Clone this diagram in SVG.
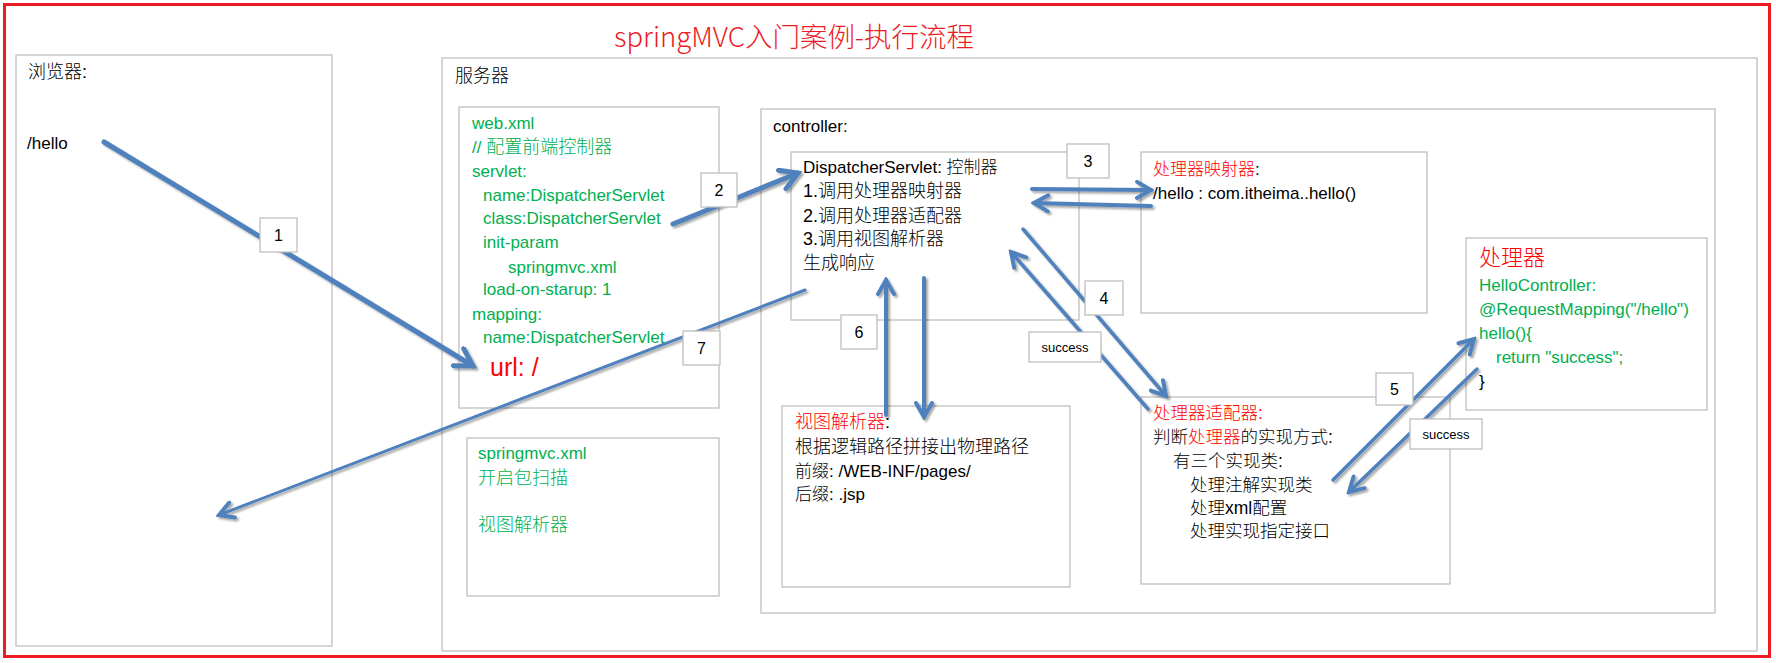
<svg xmlns="http://www.w3.org/2000/svg" width="1776" height="663" viewBox="0 0 1776 663">
<style>
text{font-family:"Liberation Sans","Noto Sans CJK SC",sans-serif;font-size:17px;fill:#000;font-weight:300}
.cj{font-size:18px}
.g{fill:#00b050}
.r{fill:#ff0000}
.k{fill:#000}
.box{fill:none;stroke:#bfbfbf;stroke-width:1.3}
.lbl{fill:#fff;stroke:#bfbfbf;stroke-width:1.3}
.num{font-size:16px;text-anchor:middle}
.suc{font-size:13px;text-anchor:middle}
.ln{fill:none;stroke:#4f81bd;stroke-linecap:round}
</style>
<defs>
<filter id="sh" filterUnits="userSpaceOnUse" x="0" y="0" width="1776" height="663">
<feDropShadow dx="2" dy="2" stdDeviation="1.3" flood-color="#000" flood-opacity="0.35"/>
</filter>
<marker id="ahL" viewBox="0 0 24 24" refX="20" refY="12" markerWidth="24" markerHeight="24" markerUnits="userSpaceOnUse" orient="auto">
<path d="M3,2 L20,12 L3,22" fill="none" stroke="#4f81bd" stroke-width="5" stroke-linecap="round" stroke-linejoin="miter"/>
</marker>
<marker id="ahS" viewBox="0 0 20 20" refX="17" refY="10" markerWidth="20" markerHeight="20" markerUnits="userSpaceOnUse" orient="auto">
<path d="M3,2 L17,10 L3,18" fill="none" stroke="#4f81bd" stroke-width="4" stroke-linecap="round" stroke-linejoin="miter"/>
</marker>
</defs>
<rect x="0" y="0" width="1776" height="663" fill="#fff"/>
<rect id="frame" x="4.5" y="4.5" width="1765" height="652" fill="none" stroke="#ed1c24" stroke-width="3"/>
<text id="title" x="614" y="47" font-size="27" textLength="360" lengthAdjust="spacingAndGlyphs" style="font-family:'Noto Sans CJK SC',sans-serif;font-size:27px;fill:#ed1c24">springMVC入门案例-执行流程</text>

<g id="browser">
<rect class="box" x="16" y="55" width="316" height="591"/>
<text class="cj" x="28" y="78">浏览器:</text>
<text x="27" y="149">/hello</text>
</g>

<g id="server">
<rect class="box" x="442" y="58" width="1315" height="593"/>
<text class="cj" x="455" y="82">服务器</text>
</g>

<g id="webxml">
<rect class="box" x="459" y="107" width="260" height="301"/>
<text class="g" x="472" y="129">web.xml</text>
<text class="g" x="472" y="153">// <tspan class="cj">配置前端控制器</tspan></text>
<text class="g" x="472" y="177">servlet:</text>
<text class="g" x="483" y="201">name:DispatcherServlet</text>
<text class="g" x="483" y="224">class:DispatcherServlet</text>
<text class="g" x="483" y="248">init-param</text>
<text class="g" x="508" y="273">springmvc.xml</text>
<text class="g" x="483" y="295">load-on-starup: 1</text>
<text class="g" x="472" y="320">mapping:</text>
<text class="g" x="483" y="343">name:DispatcherServlet</text>
<text class="r" x="490" y="376" style="font-size:25px">url: /</text>
</g>

<g id="springmvc">
<rect class="box" x="467" y="438" width="252" height="158"/>
<text class="g" x="478" y="459">springmvc.xml</text>
<text class="g cj" x="478" y="484">开启包扫描</text>
<text class="g cj" x="478" y="531">视图解析器</text>
</g>

<g id="controller">
<rect class="box" x="761" y="109" width="954" height="504"/>
<text x="773" y="132">controller:</text>
</g>

<g id="dispatcher">
<rect class="box" x="791" y="152" width="288" height="168"/>
<text x="803" y="173">DispatcherServlet: 控制器</text>
<text class="cj" x="803" y="197">1.调用处理器映射器</text>
<text class="cj" x="803" y="222">2.调用处理器适配器</text>
<text class="cj" x="803" y="245">3.调用视图解析器</text>
<text class="cj" x="803" y="269">生成响应</text>
</g>

<g id="mapper">
<rect class="box" x="1141" y="152" width="286" height="161"/>
<text class="r" x="1153" y="175">处理器映射器<tspan class="k">:</tspan></text>
<text x="1153" y="199">/hello : com.itheima..hello()</text>
</g>

<g id="handler">
<rect class="box" x="1466" y="238" width="241" height="172"/>
<text class="r" x="1479" y="265" style="font-size:22px">处理器</text>
<text class="g" x="1479" y="291">HelloController:</text>
<text class="g" x="1479" y="315">@RequestMapping("/hello")</text>
<text class="g" x="1479" y="339">hello(){</text>
<text class="g" x="1496" y="363">return "success";</text>
<text x="1479" y="387">}</text>
</g>

<g id="viewresolver">
<rect class="box" x="782" y="406" width="288" height="181"/>
<text class="r cj" x="795" y="428">视图解析器<tspan class="k">:</tspan></text>
<text class="cj" x="795" y="453">根据逻辑路径拼接出物理路径</text>
<text x="795" y="477">前缀: /WEB-INF/pages/</text>
<text x="795" y="500">后缀: .jsp</text>
</g>

<g id="adapter">
<rect class="box" x="1141" y="397" width="309" height="187"/>
<text class="r" x="1153" y="419" style="font-size:17.5px">处理器适配器:</text>
<text x="1153" y="443" style="font-size:17.5px">判断<tspan class="r">处理器</tspan>的实现方式:</text>
<text x="1173" y="467" style="font-size:17.5px">有三个实现类:</text>
<text x="1190" y="491" style="font-size:17.5px">处理注解实现类</text>
<text x="1190" y="514" style="font-size:17.5px">处理xml配置</text>
<text x="1190" y="537" style="font-size:17.5px">处理实现指定接口</text>
</g>

<g id="connectors" filter="url(#sh)">
<line class="ln" x1="104" y1="142" x2="473" y2="366" stroke-width="5" marker-end="url(#ahL)"/>
<line class="ln" x1="673" y1="224" x2="798" y2="173" stroke-width="5" marker-end="url(#ahL)"/>
<line class="ln" x1="1032" y1="189" x2="1151" y2="190" stroke-width="4" marker-end="url(#ahS)"/>
<line class="ln" x1="1151" y1="206" x2="1034" y2="203" stroke-width="4" marker-end="url(#ahS)"/>
<line class="ln" x1="1023" y1="229" x2="1166" y2="396" stroke-width="3.5" marker-end="url(#ahS)"/>
<line class="ln" x1="1148" y1="409" x2="1011" y2="252" stroke-width="3.5" marker-end="url(#ahS)"/>
<line class="ln" x1="1333" y1="480" x2="1474" y2="339" stroke-width="3.5" marker-end="url(#ahS)"/>
<line class="ln" x1="1477" y1="369" x2="1349" y2="492" stroke-width="3.5" marker-end="url(#ahS)"/>
<line class="ln" x1="886" y1="415" x2="886" y2="280" stroke-width="4" marker-end="url(#ahS)"/>
<line class="ln" x1="924" y1="278" x2="924" y2="417" stroke-width="4" marker-end="url(#ahS)"/>
<line class="ln" x1="805" y1="290" x2="219" y2="515" stroke-width="3" marker-end="url(#ahS)"/>
</g>

<g id="label1"><rect class="lbl" x="260" y="218" width="37" height="34"/><text class="num" x="278.5" y="241">1</text></g>
<g id="label2"><rect class="lbl" x="701" y="173" width="36" height="34"/><text class="num" x="719" y="196">2</text></g>
<g id="label3"><rect class="lbl" x="1067" y="144" width="42" height="34"/><text class="num" x="1088" y="167">3</text></g>
<g id="label4"><rect class="lbl" x="1085" y="281" width="38" height="34"/><text class="num" x="1104" y="304">4</text></g>
<g id="label5"><rect class="lbl" x="1376" y="373" width="37" height="32"/><text class="num" x="1394.5" y="395">5</text></g>
<g id="label6"><rect class="lbl" x="841" y="315" width="36" height="34"/><text class="num" x="859" y="338">6</text></g>
<g id="label7"><rect class="lbl" x="683" y="331" width="37" height="34"/><text class="num" x="701.5" y="354">7</text></g>
<g id="success1"><rect class="lbl" x="1029" y="332" width="72" height="30"/><text class="suc" x="1065" y="352">success</text></g>
<g id="success2"><rect class="lbl" x="1410" y="419" width="72" height="30"/><text class="suc" x="1446" y="439">success</text></g>
</svg>
